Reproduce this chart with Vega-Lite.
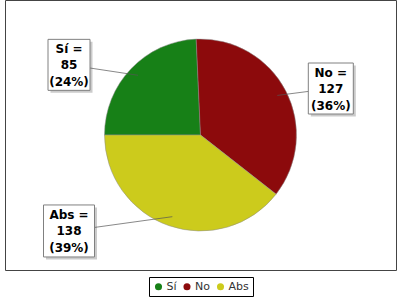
{
  "$schema": "https://vega.github.io/schema/vega-lite/v6.json",
  "width": 391,
  "height": 270,
  "padding": {"left": 5, "top": 0, "right": 4, "bottom": 3},
  "background": "white",
  "data": {"values": [
    {"cat": "Sí", "v": 85},
    {"cat": "No", "v": 127},
    {"cat": "Abs", "v": 138}
  ]},
  "transform": [
    {"calculate": "indexof(['Sí','No','Abs'], datum.cat)", "as": "ord"},
    {"joinaggregate": [{"op": "sum", "field": "v", "as": "total"}]},
    {"window": [{"op": "sum", "field": "v", "as": "cum"}], "sort": [{"field": "ord"}], "frame": [null, 0]},
    {"calculate": "3*PI/2 + 2*PI*(datum.cum - datum.v/2)/datum.total", "as": "a"},
    {"calculate": "86.4*sin(datum.a)", "as": "ax"},
    {"calculate": "86.4*cos(datum.a)", "as": "ay"},
    {"calculate": "101.5*cos(datum.a)", "as": "ly"},
    {"calculate": "sin(datum.a) < 0 ? -131.5 : 130.3", "as": "lx"},
    {"calculate": "[datum.cat + ' =', '' + datum.v, '(' + format(datum.v/datum.total, '.0%') + ')']", "as": "lbl"}
  ],
  "layer": [
    {
      "mark": {"type": "arc", "outerRadius": 96, "stroke": "#8a8a8a", "strokeWidth": 0.5},
      "encoding": {
        "theta": {"field": "v", "type": "quantitative", "stack": true, "scale": {"range": [4.712389, 10.995574]}},
        "order": {"field": "ord", "type": "quantitative"},
        "color": {
          "field": "cat", "type": "nominal", "sort": ["Sí", "No", "Abs"],
          "scale": {"domain": ["Sí", "No", "Abs"], "range": ["#178017", "#8c0a0c", "#cccb1c"]},
          "legend": {"title": null, "orient": "none", "direction": "horizontal", "legendX": 144, "legendY": 277}
        }
      }
    },
    {
      "mark": {"type": "point", "filled": true, "fill": "#cbcbcb", "size": 4, "strokeWidth": 0, "opacity": 1},
      "encoding": {
        "x": {"field": "lx", "type": "quantitative", "scale": {"domain": [-195.5, 195.5], "nice": false, "zero": false}, "axis": null},
        "y": {"field": "ly", "type": "quantitative", "scale": {"domain": [-135, 135], "nice": false, "zero": false}, "axis": null},
        "shape": {
          "field": "cat", "type": "nominal", "legend": null,
          "scale": {"domain": ["Sí", "No", "Abs"], "range": ["M-18.5,-23H23.5V28H-18.5Z", "M-20,-23H25V28H-20Z", "M-23,-23.5H28V28.5H-23Z"]}
        }
      }
    },
    {
      "mark": {"type": "rule", "stroke": "#555555", "strokeWidth": 0.7},
      "encoding": {
        "x": {"field": "ax", "type": "quantitative"},
        "y": {"field": "ay", "type": "quantitative"},
        "x2": {"field": "lx"},
        "y2": {"field": "ly"}
      }
    },
    {
      "mark": {"type": "point", "filled": true, "fill": "white", "stroke": "#808080", "strokeWidth": 1, "size": 4, "opacity": 1},
      "encoding": {
        "x": {"field": "lx", "type": "quantitative"},
        "y": {"field": "ly", "type": "quantitative"},
        "shape": {
          "field": "cat", "type": "nominal", "legend": null,
          "scale": {"domain": ["Sí", "No", "Abs"], "range": ["M-21,-25.5H21V25.5H-21Z", "M-22.5,-25.5H22.5V25.5H-22.5Z", "M-25.5,-26H25.5V26H-25.5Z"]}
        }
      }
    },
    {
      "mark": {"type": "text", "font": "DejaVu Sans", "fontSize": 12, "fontWeight": "bold", "lineHeight": 16.5, "align": "center", "baseline": "middle", "dy": -16, "color": "black"},
      "encoding": {
        "x": {"field": "lx", "type": "quantitative"},
        "y": {"field": "ly", "type": "quantitative"},
        "text": {"field": "lbl"}
      }
    }
  ],
  "resolve": {"scale": {"shape": "independent"}},
  "config": {
    "view": {"stroke": "#444444", "strokeWidth": 1},
    "legend": {
      "symbolType": "circle", "symbolSize": 50, "symbolStrokeWidth": 0,
      "labelFont": "DejaVu Sans", "labelFontSize": 11, "labelColor": "#333333",
      "strokeColor": "black", "padding": 4, "columnPadding": 4.5, "labelOffset": 2.5,
      "fillColor": "white"
    }
  }
}
